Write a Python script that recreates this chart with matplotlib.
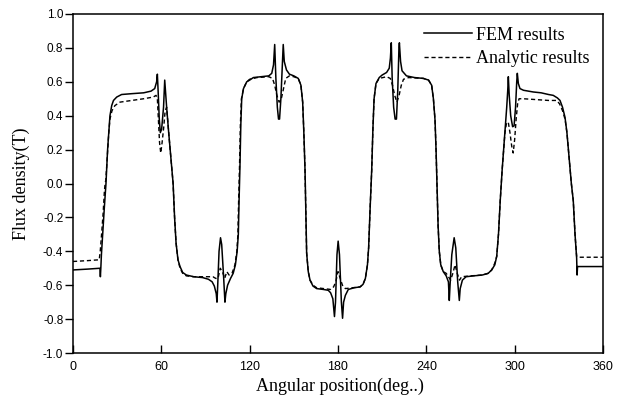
import matplotlib
matplotlib.use("Agg")
import matplotlib.pyplot as plt

# FEM results (solid)
fem_x = [0, 10, 17.5, 18.3, 18.6, 18.9, 19.3, 20.2, 21.3, 22.4, 23.5, 25.1, 26.3, 27.5, 29.7,
         33, 40, 48, 53, 55.5, 56.8, 57.3, 57.8, 58.6, 59.3, 60.2, 61.5, 62.3, 62.8, 63.6,
         65, 66.5, 68, 69, 70, 71.3, 72.7, 74.5, 77, 82, 88, 92, 94.5, 96.0, 97.3, 97.8,
         98.3, 99.2, 100.2, 101, 102.3, 103.2, 103.8, 105, 107, 108.8, 110.3, 111.5, 112.3,
         112.8, 113.4, 114, 114.6, 115.8, 118, 120, 122.5, 128, 133, 135, 136.2, 137.0, 137.8,
         138.8, 139.6, 140.3, 141.2, 142.2, 142.8, 143.5, 145, 147, 150, 153, 154.8, 156,
         156.8, 157.6, 158.2, 158.7, 159.8, 161, 163, 165.5, 170, 173.4, 175, 176.5, 177.6,
         178.3, 179.3, 180.1, 181, 182.3, 183.1, 183.8, 185, 187, 191, 195, 197, 198.6, 200,
         200.8, 201.8, 202.9, 203.7, 204.5, 205.8, 208, 210, 213, 214.8, 215.6, 216.2, 216.8,
         217.8, 218.8, 219.7, 220.6, 221.4, 221.7, 222.5, 223.5, 226.5, 232, 238, 241.5,
         243.6, 244.8, 245.9, 246.6, 247.2, 248, 248.8, 249.8, 251.5, 253.5, 255.0, 255.6,
         256.1, 257.3, 258.9, 260, 261.3, 262.4, 263, 264.5, 267, 272, 278, 282, 284.4, 286.5,
         287.8, 289, 290.2, 291.5, 292.7, 293.4, 294.6, 295.3, 295.7, 296.3, 297.3, 298.6,
         299.6, 300.6, 301.4, 301.8, 302.5, 303.6, 306, 312.6, 318, 323, 326.2, 329, 330.8,
         332.5, 334.2, 335.5, 337, 338.5, 339.8, 341, 342.1, 342.4, 342.7, 345, 352, 360]
fem_y = [-0.51, -0.505, -0.50, -0.50, -0.55, -0.50, -0.42, -0.29, -0.14, 0.0, 0.2, 0.40, 0.46,
         0.49, 0.51, 0.525, 0.53, 0.535, 0.545, 0.56, 0.60, 0.645, 0.55, 0.38, 0.30, 0.32,
         0.45, 0.61, 0.55, 0.45, 0.30, 0.15, 0.00, -0.20, -0.35, -0.45, -0.49, -0.525, -0.54,
         -0.55, -0.555, -0.565, -0.58, -0.605, -0.65, -0.70, -0.60, -0.40, -0.32, -0.36,
         -0.55, -0.70, -0.65, -0.60, -0.56, -0.53, -0.48, -0.40, -0.30, -0.10, 0.10, 0.35,
         0.50, 0.56, 0.60, 0.61, 0.625, 0.63, 0.635, 0.65, 0.70, 0.82, 0.62, 0.45, 0.38, 0.38,
         0.50, 0.70, 0.82, 0.72, 0.67, 0.645, 0.635, 0.62, 0.58, 0.48, 0.30, 0.08, -0.20,
         -0.41, -0.52, -0.57, -0.605, -0.62, -0.625, -0.63, -0.645, -0.68, -0.785, -0.70,
         -0.42, -0.34, -0.42, -0.70, -0.795, -0.70, -0.66, -0.625, -0.615, -0.61, -0.595,
         -0.56, -0.48, -0.38, -0.15, 0.08, 0.32, 0.50, 0.59, 0.625, 0.64, 0.655, 0.68, 0.74,
         0.83, 0.62, 0.45, 0.38, 0.38, 0.55, 0.80, 0.83, 0.72, 0.665, 0.635, 0.625, 0.62,
         0.61, 0.58, 0.50, 0.375, 0.20, 0.00, -0.25, -0.40, -0.48, -0.52, -0.545, -0.58,
         -0.69, -0.60, -0.42, -0.32, -0.38, -0.58, -0.69, -0.62, -0.57, -0.55, -0.545, -0.54,
         -0.53, -0.51, -0.48, -0.43, -0.30, -0.10, 0.08, 0.22, 0.30, 0.45, 0.55, 0.63, 0.52,
         0.40, 0.335, 0.34, 0.45, 0.60, 0.65, 0.59, 0.56, 0.55, 0.54, 0.535, 0.525, 0.52,
         0.505, 0.49, 0.45, 0.39, 0.30, 0.15, 0.00, -0.10, -0.30, -0.44, -0.54, -0.49, -0.49,
         -0.49, -0.49]

# Analytic results (dashed)
ana_x = [0, 10, 17.8, 18.5, 19.5, 20.5, 21.3, 21.8, 22.3, 23.2, 24.3, 25.1, 26.5, 28.5, 31.9,
         40, 48, 54.5, 56.4, 57.3, 58.0, 58.8, 59.6, 60.5, 61.6, 62.6, 63.6, 65, 66.5, 68, 69,
         70, 71.3, 72.7, 74.5, 77, 82, 88, 92, 95, 97, 98.5, 100, 101.5, 103, 104.5, 106, 108,
         110, 111.3, 112, 112.5, 113.1, 113.7, 114.4, 115.8, 118, 120, 125, 133, 135.5, 137,
         138.5, 140, 141.5, 143, 144.5, 147, 150, 153, 154.8, 156, 156.8, 157.6, 158.2, 158.7,
         159.8, 161, 163, 165.5, 170, 175, 177, 178.5, 180, 181.5, 183, 185, 190, 195, 197,
         198.6, 200, 200.8, 201.8, 202.9, 203.7, 204.5, 205.8, 208, 213, 215.5, 217, 218.5,
         220, 221.5, 223, 224.5, 228, 238, 241.5, 243.6, 244.8, 245.9, 246.6, 247.2, 248,
         248.8, 249.8, 251.5, 253.5, 255, 256.5, 258, 259.5, 261, 262.5, 264, 270, 278, 282,
         284.4, 286.5, 287.8, 289, 290.2, 291.5, 292.7, 293.4, 294.5, 295.7, 296.8, 298, 299,
         300, 301, 302, 303, 306, 315, 323, 328.5, 330.5, 332.5, 334.2, 335.5, 337, 338.5,
         339.8, 341, 342.1, 343, 360]
ana_y = [-0.46, -0.455, -0.45, -0.40, -0.29, -0.17, -0.05, 0.00, 0.02, 0.15, 0.30, 0.38, 0.43,
         0.46, 0.48, 0.49, 0.50, 0.51, 0.52, 0.50, 0.38, 0.24, 0.18, 0.24, 0.33, 0.43, 0.45,
         0.30, 0.15, 0.0, -0.2, -0.35, -0.45, -0.50, -0.53, -0.545, -0.55, -0.55, -0.55, -0.55,
         -0.56, -0.56, -0.50, -0.52, -0.56, -0.52, -0.54, -0.53, -0.48, -0.40, -0.30, -0.10,
         0.10, 0.35, 0.50, 0.56, 0.60, 0.615, 0.625, 0.63, 0.62, 0.58, 0.52, 0.48, 0.50, 0.56,
         0.62, 0.635, 0.63, 0.62, 0.58, 0.48, 0.30, 0.08, -0.2, -0.41, -0.52, -0.57, -0.60,
         -0.615, -0.62, -0.625, -0.61, -0.58, -0.52, -0.56, -0.60, -0.62, -0.615, -0.61,
         -0.595, -0.56, -0.48, -0.38, -0.15, 0.08, 0.32, 0.50, 0.59, 0.62, 0.63, 0.62, 0.58,
         0.52, 0.48, 0.52, 0.58, 0.615, 0.625, 0.62, 0.61, 0.58, 0.50, 0.375, 0.20, 0.00,
         -0.25, -0.40, -0.48, -0.52, -0.53, -0.55, -0.57, -0.53, -0.48, -0.53, -0.57, -0.55,
         -0.545, -0.54, -0.53, -0.51, -0.47, -0.43, -0.30, -0.10, 0.08, 0.22, 0.30, 0.36,
         0.36, 0.30, 0.22, 0.18, 0.26, 0.38, 0.47, 0.50, 0.50, 0.495, 0.49, 0.49, 0.47, 0.43,
         0.38, 0.30, 0.15, 0.0, -0.10, -0.30, -0.43, -0.435, -0.435]

x_ticks = [0, 60, 120, 180, 240, 300, 360]
y_ticks = [-1.0, -0.8, -0.6, -0.4, -0.2, 0.0, 0.2, 0.4, 0.6, 0.8, 1.0]

serif = ["Liberation Serif", "DejaVu Serif"]
sans = ["Liberation Sans", "DejaVu Sans"]

fig = plt.figure(figsize=(6.22, 4.05), dpi=100)
ax = fig.add_axes([73 / 622, 1 - 353 / 405, 530 / 622, 339 / 405])

ax.plot(fem_x, fem_y, color="black", lw=1.1, label="FEM results")
ax.plot(ana_x, ana_y, color="black", lw=1.0, linestyle=(0, (3, 2)), label="Analytic results")

ax.set_xlim(0, 360)
ax.set_ylim(-1.0, 1.0)
ax.set_xticks(x_ticks)
ax.set_yticks(y_ticks)
ax.set_xticklabels([str(v) for v in x_ticks], fontfamily=sans, fontsize=9)
ax.set_yticklabels(["%.1f" % v for v in y_ticks], fontfamily=sans, fontsize=8.5)
ax.tick_params(axis="x", direction="in", length=5.5, width=1.0, pad=6)
ax.tick_params(axis="y", direction="out", length=5.5, width=1.0, pad=1.5)
for s in ax.spines.values():
    s.set_linewidth(1.1)

ax.set_xlabel("Angular position(deg..)", fontfamily=serif, fontsize=13)
ax.set_ylabel("Flux density(T)", fontfamily=serif, fontsize=13)
ax.xaxis.set_label_coords(0.504, -0.072)
ax.yaxis.set_label_coords(-0.082, 0.5)

leg = ax.legend(loc="upper right", bbox_to_anchor=(0.995, 0.995), frameon=False,
                prop={"family": serif, "size": 13}, handlelength=2.7, handletextpad=0.2,
                labelspacing=0.35, borderaxespad=0.2)

fig.savefig("out.png", dpi=100)
